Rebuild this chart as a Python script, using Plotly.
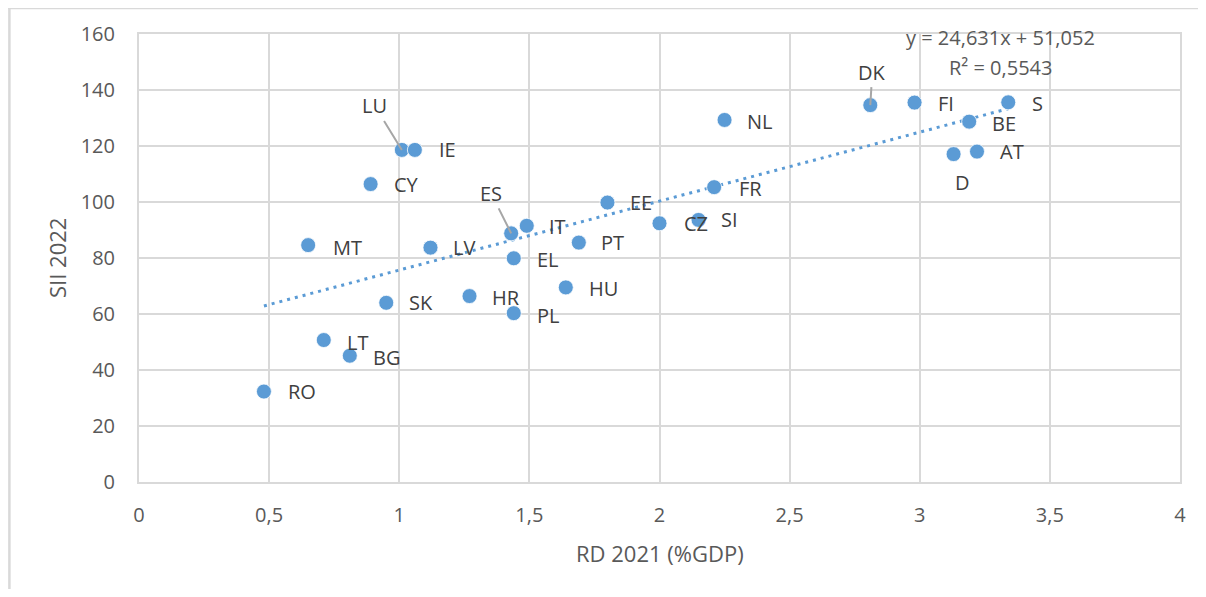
import plotly.graph_objects as go

# ---- data ----
countries = ["RO", "LT", "BG", "MT", "SK", "CY", "LU", "IE", "LV", "HR", "ES", "IT", "EL", "PL",
             "HU", "PT", "EE", "CZ", "SI", "FR", "NL", "DK", "FI", "D", "AT", "BE", "S"]
rd_2021 = [0.48, 0.71, 0.81, 0.65, 0.95, 0.89, 1.01, 1.06, 1.12, 1.27, 1.43, 1.49, 1.44, 1.44,
           1.64, 1.69, 1.80, 2.00, 2.15, 2.21, 2.25, 2.81, 2.98, 3.13, 3.22, 3.19, 3.34]
sii_2022 = [32.3, 50.7, 45.1, 84.6, 64.0, 106.4, 118.6, 118.6, 83.7, 66.4, 88.8, 91.5, 79.9, 60.3,
            69.5, 85.5, 99.8, 92.4, 93.6, 105.3, 129.3, 134.6, 135.5, 117.1, 118.0, 128.7, 135.6]

slope = 24.631
intercept = 51.052
r_squared = 0.5543

x_title = "RD 2021 (%GDP)"
y_title = "SII 2022"
x_tickvals = [0, 0.5, 1, 1.5, 2, 2.5, 3, 3.5, 4]
x_ticktext = ["0", "0,5", "1", "1,5", "2", "2,5", "3", "3,5", "4"]
y_tickvals = [0, 20, 40, 60, 80, 100, 120, 140, 160]

# label placement offsets in pixels (style, not data)
label_offsets = {
    "RO": (38, 0), "LT": (34, -2), "BG": (37, -2), "MT": (39, -2), "SK": (35, 0),
    "CY": (36, 0), "IE": (33, 0), "LV": (34, 0), "HR": (36, -1), "IT": (31, -1),
    "EL": (34, -1), "PL": (34, -2), "HU": (38, -1), "PT": (34, 0), "EE": (34, 0),
    "CZ": (36, 0), "SI": (31, 0), "FR": (36, -1), "NL": (35, -2), "FI": (31, -1),
    "D": (9, -28), "AT": (35, 0), "BE": (35, -2), "S": (29, -1),
}
leader_offsets = {"LU": (-27, -44), "ES": (-20, -40), "DK": (2, -33)}

BLUE = "#5B9BD5"
GRID = "#D9D9D9"
TXT = "#595959"
LBL = "#404040"
FONT = "Open Sans"

fig = go.Figure()

# trendline (from equation), over the data range
xmin, xmax = min(rd_2021), max(rd_2021)
fig.add_trace(go.Scatter(
    x=[xmin, xmax], y=[slope * xmin + intercept, slope * xmax + intercept],
    mode="lines", line=dict(color=BLUE, width=3, dash="3px,5px"),
    hoverinfo="skip", showlegend=False,
))

fig.add_trace(go.Scatter(
    x=rd_2021, y=sii_2022, mode="markers", text=countries,
    marker=dict(color=BLUE, size=15, line=dict(color="white", width=0.8)),
    showlegend=False,
))

annotations = []
for c, xv, yv in zip(countries, rd_2021, sii_2022):
    if c in label_offsets:
        dx, dy = label_offsets[c]
        annotations.append(dict(x=xv, y=yv, xref="x", yref="y", text=c, showarrow=False,
                                xshift=dx, yshift=dy,
                                font=dict(family=FONT, size=20, color=LBL)))
    elif c in leader_offsets:
        ax, ay = leader_offsets[c]
        annotations.append(dict(x=xv, y=yv, xref="x", yref="y", text=c, showarrow=True,
                                arrowhead=0, arrowwidth=2, arrowcolor="#A6A6A6",
                                ax=ax, ay=ay, standoff=0,
                                font=dict(family=FONT, size=20, color=LBL)))

eq_text = "y = {}x + {}".format(str(slope).replace(".", ","), str(intercept).replace(".", ","))
r2_text = "R² = {}".format(str(r_squared).replace(".", ","))
annotations.append(dict(x=3.31, y=158.6, xref="x", yref="y", text=eq_text, showarrow=False,
                        font=dict(family=FONT, size=20, color=TXT)))
annotations.append(dict(x=3.31, y=148.2, xref="x", yref="y", text=r2_text, showarrow=False,
                        font=dict(family=FONT, size=20, color=TXT)))

# axis titles
annotations.append(dict(x=0.5, y=0, xref="paper", yref="paper", text=x_title, showarrow=False,
                        yshift=-71, yanchor="middle",
                        font=dict(family=FONT, size=22, color=TXT)))
annotations.append(dict(x=0, y=0.5, xref="paper", yref="paper", text=y_title, showarrow=False,
                        xshift=-82, xanchor="center", textangle=-90,
                        font=dict(family=FONT, size=22, color=TXT)))

# outer frame lines of the embedded chart (at the figure's top and left edges)
shapes = [
    dict(type="line", xref="paper", yref="paper", x0=-0.13, x1=1.1, y0=1.058, y1=1.058,
         line=dict(color=GRID, width=2.5)),
    dict(type="line", xref="paper", yref="paper", x0=-0.1245, x1=-0.1245, y0=1.07, y1=-0.3,
         line=dict(color=GRID, width=2.5)),
]

# the page has an 8px body margin, so the figure is sized to fit inside the window
fig.update_layout(
    width=1190, height=581,
    margin=dict(l=131, r=15, t=26, b=107),
    paper_bgcolor="white", plot_bgcolor="white",
    font=dict(family=FONT, size=20, color=TXT),
    annotations=annotations, shapes=shapes,
    xaxis=dict(range=[0, 4], tickvals=x_tickvals, ticktext=x_ticktext,
               showgrid=True, gridcolor=GRID, gridwidth=2, zeroline=False,
               showline=True, linecolor=GRID, linewidth=2, mirror=True,
               ticks="", ticklabelstandoff=14,
               tickfont=dict(family=FONT, size=20, color=TXT)),
    yaxis=dict(range=[0, 160], tickvals=y_tickvals,
               showgrid=True, gridcolor=GRID, gridwidth=2, zeroline=False,
               showline=True, linecolor=GRID, linewidth=2, mirror=True,
               ticks="", ticklabelstandoff=18,
               tickfont=dict(family=FONT, size=20, color=TXT)),
)

fig.write_html("out.html")
